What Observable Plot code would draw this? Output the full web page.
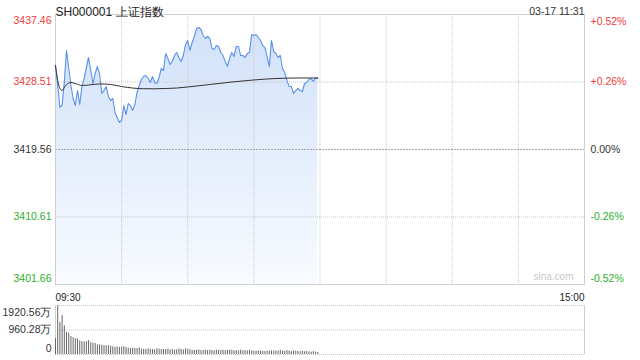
<!DOCTYPE html>
<html><head><meta charset="utf-8">
<script src="https://cdn.jsdelivr.net/npm/d3@7"></script>
<script src="https://cdn.jsdelivr.net/npm/@observablehq/plot@0.6"></script>
<style>
html,body{margin:0;padding:0;background:#fff;}
#chart{position:relative;width:640px;height:360px;font-family:"Liberation Sans",Arial,sans-serif;}
#chart svg{position:absolute;left:0;}
</style></head><body><div id="chart"></div>
<script>
const title = "SH000001 上证指数";
const stamp = "03-17 11:31";
const prevClose = 3419.56;
const priceTicks = [3401.66, 3410.61, 3419.56, 3428.51, 3437.46];
const pctTicks = ["-0.52%", "-0.26%", "0.00%", "+0.26%", "+0.52%"];
const timeLabels = ["09:30", "15:00"];
const watermark = "sina.com";
const sessionMinutes = 240;
const gridMinutes = [30, 60, 90, 120, 150, 180, 210];

const price = [
  3430.70, 3428.05, 3425.17, 3425.39, 3428.44, 3432.69, 3430.30, 3428.05, 3426.32, 3425.39,
  3427.38, 3425.53, 3427.91, 3428.97, 3430.43, 3431.76, 3430.03, 3428.31, 3429.64, 3430.57,
  3429.50, 3426.99, 3427.38, 3427.91, 3426.59, 3426.06, 3426.32, 3424.47, 3423.80, 3423.14,
  3423.41, 3425.39, 3424.20, 3425.66, 3425.39, 3424.73, 3425.53, 3427.12, 3428.05, 3428.84,
  3429.24, 3429.37, 3428.97, 3428.44, 3429.24, 3428.44, 3428.31, 3429.11, 3430.30, 3430.03,
  3432.29, 3431.63, 3430.83, 3431.23, 3432.02, 3432.42, 3431.76, 3431.23, 3432.02, 3433.48,
  3434.01, 3432.69, 3433.75, 3434.54, 3435.60, 3435.74, 3435.47, 3434.68, 3434.28,
  3434.54, 3434.28, 3432.95, 3432.82, 3433.35, 3433.22, 3432.42, 3432.02, 3431.23, 3430.57,
  3431.63, 3432.42, 3431.89, 3433.22, 3433.22, 3432.02, 3432.02, 3431.76, 3432.29, 3432.42,
  3434.81, 3434.68, 3434.81, 3434.41, 3434.01, 3433.35, 3433.08, 3431.89, 3430.57, 3434.01,
  3432.55, 3432.29, 3431.76, 3432.02, 3430.30, 3429.77, 3428.71, 3427.91, 3427.91, 3426.99,
  3427.38, 3427.65, 3427.38, 3427.25, 3428.31, 3428.44, 3428.84, 3428.97, 3428.58, 3429.11, 3428.97
];

const avgMinute = [0, 1, 2, 3, 4, 5, 7, 9, 12, 15, 20, 25, 30, 35, 40, 45, 50, 55, 60, 70, 80, 90, 100, 110, 119];
const avgPrice = [3430.70, 3428.71, 3427.65, 3427.38, 3427.78, 3428.18, 3428.44, 3428.31, 3428.05, 3428.11,
  3428.25, 3428.18, 3427.91, 3427.71, 3427.62, 3427.61, 3427.65, 3427.71, 3427.85, 3428.18,
  3428.51, 3428.78, 3428.97, 3429.04, 3429.04];

const volume = [
  623, 1920, 1258, 1531, 1130, 870, 830, 700, 650, 630,
  610, 533, 506, 494, 506, 545, 467, 441, 428, 377,
  377, 363, 350, 337, 350, 324, 298, 285, 298, 272,
  285, 311, 272, 246, 233, 246, 233, 233, 259, 207,
  207, 194, 220, 207, 194, 181, 220, 207, 194, 194,
  194, 207, 181, 194, 168, 181, 220, 194, 181, 220,
  207, 181, 168, 155, 168, 181, 155, 155, 168, 155,
  168, 155, 142, 168, 155, 155, 168, 155, 168, 168,
  168, 142, 155, 142, 168, 142, 155, 142, 168, 142,
  129, 129, 142, 129, 129, 116, 129, 142, 142, 129,
  142, 129, 155, 129, 129, 155, 142, 116, 142, 129,
  116, 103, 129, 103, 116, 103, 90, 116, 90, 78
];
const volTicks = [0, 960.28, 1920.56];
const volTickLabels = ["0", "960.28万", "1920.56万"];

const UP = "#f23a3a", DOWN = "#2bb02b", FLAT = "#333";
const colorOf = v => v > prevClose + 1e-6 ? UP : v < prevClose - 1e-6 ? DOWN : FLAT;
const tickRows = priceTicks.map((v, i) => ({v, pct: pctTicks[i], c: colorOf(v)}));
const avgRows = avgMinute.map((m, i) => ({m, p: avgPrice[i]}));
const yMin = priceTicks[0], yMax = priceTicks[priceTicks.length - 1];

const W = 640, ML = 55, MR = 56;
const font = {fontFamily: "Liberation Sans, Arial, sans-serif", fontSize: "10.5px", background: "transparent", overflow: "visible"};

const gradient = () => {
  const defs = d3.create("svg:defs");
  const g = defs.append("linearGradient").attr("id", "pg")
    .attr("gradientUnits", "userSpaceOnUse").attr("x1", 0).attr("y1", 14).attr("x2", 0).attr("y2", 284);
  g.append("stop").attr("offset", "0%").attr("stop-color", "#d0e0f9");
  g.append("stop").attr("offset", "100%").attr("stop-color", "#f8fbff");
  return defs.node();
};

const main = Plot.plot({
  width: W, height: 290, marginTop: 14, marginBottom: 6, marginLeft: ML, marginRight: MR,
  style: font,
  x: {domain: [0, sessionMinutes], axis: null},
  y: {domain: [yMin, yMax], axis: null},
  marks: [
    gradient,
    Plot.areaY(price, {x: (d, i) => i, y1: yMin, y2: d => d, fill: "url(#pg)"}),
    Plot.ruleY([priceTicks[1], priceTicks[3]], {stroke: "#c8c8c8", strokeDasharray: "1,1"}),
    Plot.ruleY([priceTicks[2]], {stroke: "#a8a8a8", strokeDasharray: "2,1"}),
    Plot.ruleX(gridMinutes, {stroke: "#c8c8c8", strokeDasharray: "1,1"}),
    Plot.frame({stroke: "#cfcfcf"}),
    Plot.lineY(price, {x: (d, i) => i, y: d => d, stroke: "#5a92ea", strokeWidth: 1.1}),
    Plot.line(avgRows, {x: "m", y: "p", stroke: "#333", strokeWidth: 1, curve: "monotone-x"}),
    // left price labels
    Plot.text(tickRows.slice(1, 4), {y: "v", text: d => d.v.toFixed(2), fill: "c", frameAnchor: "left", textAnchor: "end", dx: -4}),
    Plot.text(tickRows.slice(4), {y: "v", text: d => d.v.toFixed(2), fill: "c", frameAnchor: "left", textAnchor: "end", dx: -4, dy: 6}),
    Plot.text(tickRows.slice(0, 1), {y: "v", text: d => d.v.toFixed(2), fill: "c", frameAnchor: "left", textAnchor: "end", dx: -4, dy: -6}),
    // right pct labels
    Plot.text(tickRows.slice(1, 4), {y: "v", text: "pct", fill: "c", frameAnchor: "right", textAnchor: "start", dx: 6}),
    Plot.text(tickRows.slice(4), {y: "v", text: "pct", fill: "c", frameAnchor: "right", textAnchor: "start", dx: 6, dy: 7}),
    Plot.text(tickRows.slice(0, 1), {y: "v", text: "pct", fill: "c", frameAnchor: "right", textAnchor: "start", dx: 6, dy: -6}),
    Plot.text([title], {frameAnchor: "top-left", textAnchor: "start", dy: -7, fontSize: 12, fill: "#222"}),
    Plot.text([stamp], {frameAnchor: "top-right", textAnchor: "end", dy: -7, fontSize: 10.5, fill: "#333"}),
    Plot.text([watermark], {frameAnchor: "bottom-right", textAnchor: "end", dx: -11, dy: -5, fontSize: 10, fill: "#c8c8c8"})
  ]
});
main.style.top = "0px";

const vol = Plot.plot({
  width: W, height: 70, marginTop: 15, marginBottom: 6, marginLeft: ML, marginRight: MR,
  style: font,
  x: {domain: [0, sessionMinutes], axis: null},
  y: {domain: [0, volTicks[2]], axis: null},
  marks: [
    Plot.ruleY(volTicks, {stroke: "#c4c4c4", strokeDasharray: "1,1"}),
    Plot.ruleX([0, sessionMinutes], {stroke: "#cfcfcf"}),
    Plot.ruleX(volume, {x: (d, i) => i, y1: 0, y2: d => d, stroke: "#666", strokeWidth: 1}),
    Plot.text([volTickLabels[1]], {y: volTicks[1], frameAnchor: "left", textAnchor: "end", dx: -4, fill: "#333"}),
    Plot.text([volTickLabels[2]], {y: volTicks[2], frameAnchor: "left", textAnchor: "end", dx: -4, dy: 7, fill: "#333"}),
    Plot.text([volTickLabels[0]], {y: volTicks[0], frameAnchor: "left", textAnchor: "end", dx: -4, dy: -6, fill: "#333"}),
    Plot.text([timeLabels[0]], {frameAnchor: "top-left", textAnchor: "start", dy: -11.5, fontSize: 10, fill: "#222"}),
    Plot.text([timeLabels[1]], {frameAnchor: "top-right", textAnchor: "end", dy: -11.5, fontSize: 10, fill: "#222"})
  ]
});
vol.style.top = "290px";

const root = document.getElementById("chart");
root.append(main, vol);
</script></body></html>
